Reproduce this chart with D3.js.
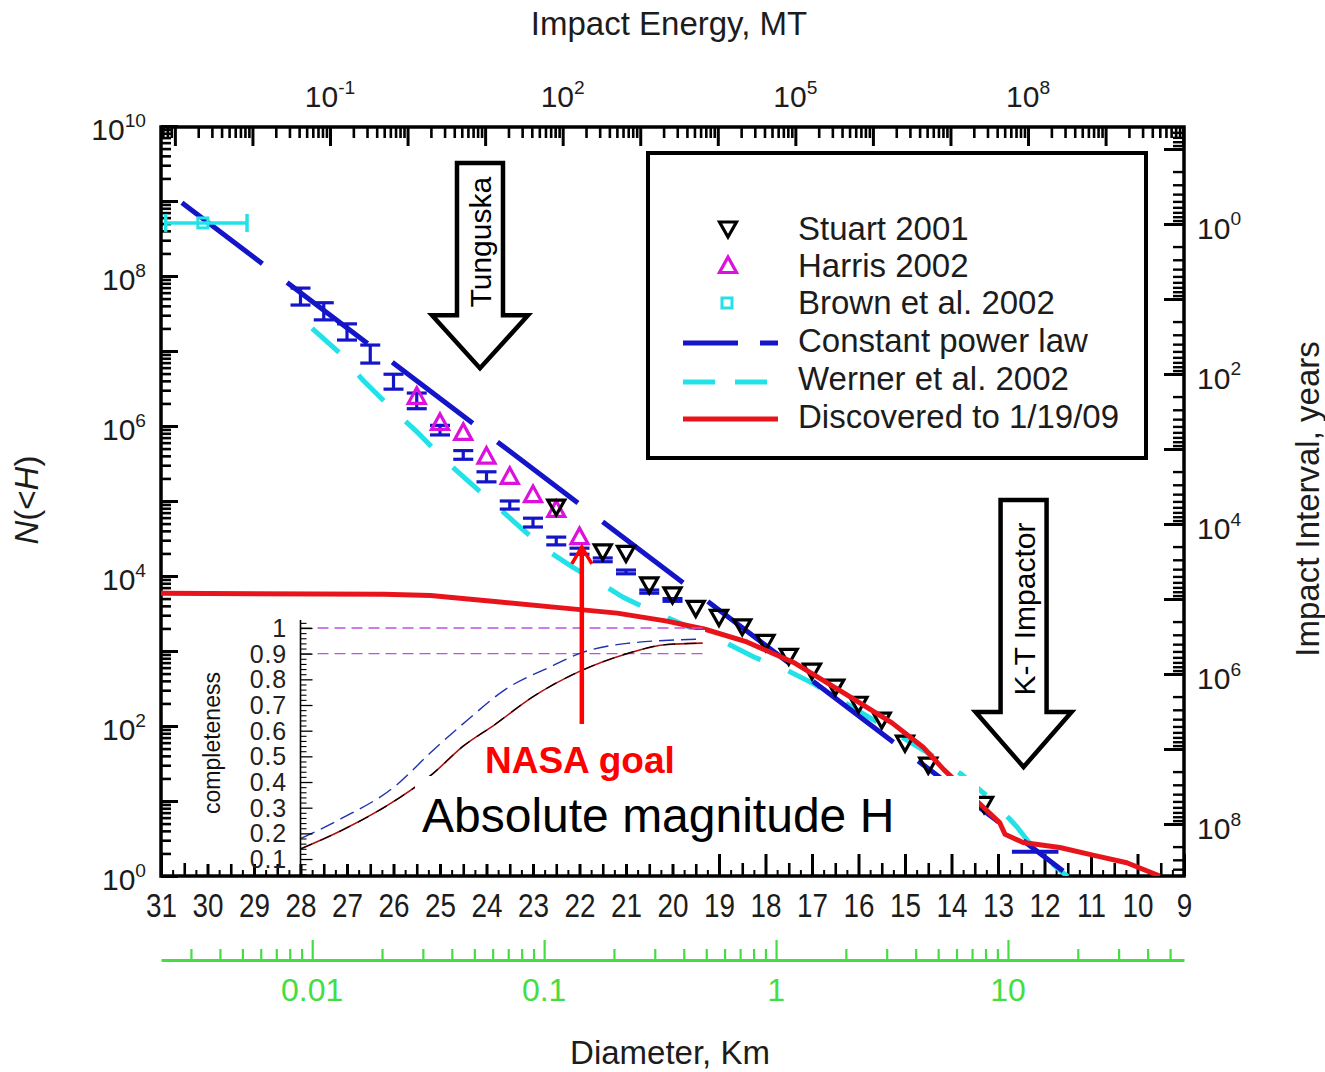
<!DOCTYPE html>
<html>
<head>
<meta charset="utf-8">
<script src="https://cdnjs.cloudflare.com/ajax/libs/d3/7.8.5/d3.min.js"></script>
<style>
  html,body{margin:0;padding:0;background:#fff;}
  svg{display:block;}
  text{font-family:"Liberation Sans",Arial,sans-serif;}
</style>
</head>
<body>
<svg id="chart" width="1325" height="1072"></svg>
<script>
// ================= DATA =================
const hTickValues = [31,30,29,28,27,26,25,24,23,22,21,20,19,18,17,16,15,14,13,12,11,10,9];
const nTickExponents = [0,2,4,6,8,10];
const energyTickExponents = [-1,2,5,8];
const intervalTickExponents = [0,2,4,6,8];
const diameterTickValues = [0.01,0.1,1,10];
const diameterTickLabels = ["0.01","0.1","1","10"];
const completenessTicks = [0.1,0.2,0.3,0.4,0.5,0.6,0.7,0.8,0.9,1];

// Stuart 2001 (black down triangles)
const stuartH = [22.5,21.5,21.0,20.5,20.0,19.5,19.0,18.5,18.0,17.5,17.0,16.5,16.0,15.5,15.0,14.5,13.3];
const stuartN = [8.3e4,2.1e4,2.0e4,7.6e3,5.6e3,3.7e3,2.8e3,2.1e3,1.3e3,850,540,330,195,120,59,30,9];

// Harris 2002 (magenta up triangles)
const harrisH = [25.5,25.0,24.5,24.0,23.5,23.0,22.5,22.0];
const harrisN = [2.45e6,1.1e6,8.1e5,3.9e5,2.1e5,1.2e5,7.6e4,3.3e4];

// Brown et al. 2002 (cyan, horizontal error bar)
const brownH = [30.1];
const brownHlo = [30.9];
const brownHhi = [29.15];
const brownN = [5.1e8];

// blue error-bar estimates (unlabelled)
const bolideH  = [28,27.5,27,26.5,26,25.5,25,24.5,24,23.5,23,22.5,22,21.5,21,20.5,20];
const bolideLo = [4.1e7,2.6e7,1.4e7,6.9e6,3.1e6,1.7e6,7.6e5,3.6e5,1.8e5,7.8e4,4.5e4,2.6e4,1.95e4,1.55e4,1.07e4,5.9e3,4.6e3];
const bolideHi = [6.9e7,4.4e7,2.3e7,1.2e7,4.9e6,2.75e6,1.02e6,4.7e5,2.45e5,1.0e5,5.9e4,3.3e4,2.35e4,1.74e4,1.2e4,6.5e3,5.0e3];
const bolideBarH = [12.7, 11.7];
const bolideBarN = [2.1, 2.1];

// Constant power law (straight line in log space)
const powerH = [30.55, 11.6];
const powerN = [9.5e8, 1.17];

// Werner et al. 2002
const wernerH = [27.75,27.15,26.66,26.08,25.49,24.94,23.28,22.70,22.14,21.56,21.06,20.48,18.85,18.25,17.67,16.98,14.31,13.80,13.11,12.59,12.25,11.50];
const wernerN = [2.0e7,9.3e6,4.1e6,1.8e6,8.3e5,3.7e5,4.5e4,2.2e4,1.3e4,8.1e3,5.2e3,3.5e3,1.28e3,830,610,370,37,23,10,4.5,2.4,0.98];

// Discovered to 1/19/09
const discH = [31.0,26.2,25.2,23.71,22.27,21.19,20.12,19.30,18.40,17.37,16.31,15.28,14.61,14.16,13.41,12.96,12.85,12.46,11.67,10.96,10.23,9.52];
const discN = [5.9e3,5.7e3,5.5e3,4.5e3,3.7e3,3.2e3,2.5e3,1.95e3,1.32e3,690,275,110,52,26,9.4,5.1,3.6,2.8,2.4,1.9,1.5,1.0];

// Inset: completeness vs H
const complBlueH = [27.99,27.13,25.99,25.17,24.42,23.6,22.61,22.01,20.98,19.35];
const complBlueC = [0.18,0.257,0.38,0.52,0.64,0.76,0.85,0.90,0.94,0.957];
const complBlackH = [27.99,27.13,25.86,25.17,24.5,23.85,23.02,22.01,20.98,20.16,19.35];
const complBlackC = [0.14,0.21,0.34,0.43,0.54,0.62,0.73,0.83,0.90,0.935,0.941];
const complGoalLevels = [1.0, 0.9];
const insetHRange = [28.0, 19.3];

// annotations (data space)
const tunguska = {H:24.14, top:3.2e9, head:3.0e7, tip:5.9e6};
const ktImpactor = {H:12.45, top:1.03e5, head:154, tip:28.4};
const nasaGoal = {H:21.95, bottom:106, tip:2.44e4};

const legendItems = ["Stuart 2001","Harris 2002","Brown et al. 2002","Constant power law","Werner et al. 2002","Discovered to 1/19/09"];

// ================= COLOURS =================
const C = {blue:"#1414c8", cyan:"#22e2e8", red:"#e8141c", mag:"#dd11dd", green:"#44dd44", txt:"#1c1c1c", bright:"#ff0000"};

// ================= SCALES =================
const L=161, R=1184, T=127, B=876;
const x = d3.scaleLinear().domain([31,9]).range([L,R]);
const y = d3.scaleLog().domain([1,1e10]).range([B,126]);
const xE = d3.scaleLog().domain([Math.pow(10,-3.179), Math.pow(10,10.011)]).range([L,R]);
const xD = d3.scaleLog().domain([Math.pow(10,-2.652), Math.pow(10,1.759)]).range([L,R]);
const yI = d3.scaleLog().domain([Math.pow(10,-1.293), Math.pow(10,8.693)]).range([T,B]);
const yC = d3.scaleLinear().domain([0,1]).range([884.7,628]);

const svg = d3.select("#chart");
svg.append("defs").append("clipPath").attr("id","clip")
  .append("rect").attr("x",L).attr("y",T).attr("width",R-L).attr("height",B-T);

function logTicks(scale){
  const [a,b] = scale.domain().map(Math.log10);
  const major=[], minor=[];
  for(let e=Math.floor(a); e<=Math.ceil(b); e++){
    const v=Math.pow(10,e);
    if(e>=a-1e-9 && e<=b+1e-9) major.push(v);
    for(let m=2;m<=9;m++){ const w=m*v, lw=Math.log10(w); if(lw>=a && lw<=b) minor.push(w); }
  }
  return {major, minor};
}
function styleAxis(g, w){ g.select(".domain").remove(); g.selectAll(".tick line").attr("stroke","#000").attr("stroke-width",w); g.selectAll(".tick text").remove(); }

// ================= AXES =================
{
  const t = logTicks(y);
  svg.append("g").attr("transform",`translate(${L},0)`).call(d3.axisLeft(y).tickValues(t.major).tickSize(-17).tickSizeOuter(0)).call(g=>styleAxis(g,3));
  svg.append("g").attr("transform",`translate(${L},0)`).call(d3.axisLeft(y).tickValues(t.minor).tickSize(-10).tickSizeOuter(0)).call(g=>styleAxis(g,2.6));
}
{
  const t = logTicks(yI);
  svg.append("g").attr("transform",`translate(${R},0)`).call(d3.axisRight(yI).tickValues(t.major).tickSize(-20).tickSizeOuter(0)).call(g=>styleAxis(g,3));
  svg.append("g").attr("transform",`translate(${R},0)`).call(d3.axisRight(yI).tickValues(t.minor).tickSize(-11).tickSizeOuter(0)).call(g=>styleAxis(g,2.4));
}
{
  const t = logTicks(xE);
  svg.append("g").attr("transform",`translate(0,${T})`).call(d3.axisTop(xE).tickValues(t.major).tickSize(-19).tickSizeOuter(0)).call(g=>styleAxis(g,3));
  svg.append("g").attr("transform",`translate(0,${T})`).call(d3.axisTop(xE).tickValues(t.minor).tickSize(-11).tickSizeOuter(0)).call(g=>styleAxis(g,2.6));
}
{
  const half = d3.range(30.5, 9, -1);
  const quarter = d3.range(30.75, 9, -0.5);
  svg.append("g").attr("transform",`translate(0,${B})`).call(d3.axisBottom(x).tickValues(hTickValues).tickSize(-22).tickSizeOuter(0)).call(g=>styleAxis(g,3));
  svg.append("g").attr("transform",`translate(0,${B})`).call(d3.axisBottom(x).tickValues(half).tickSize(-13).tickSizeOuter(0)).call(g=>styleAxis(g,2.6));
  svg.append("g").attr("transform",`translate(0,${B})`).call(d3.axisBottom(x).tickValues(quarter).tickSize(-6).tickSizeOuter(0)).call(g=>styleAxis(g,2));
  const lab = svg.append("g").attr("transform",`translate(0,${B})`).call(d3.axisBottom(x).tickValues(hTickValues).tickSize(0).tickSizeOuter(0).tickFormat(d3.format("d")));
  lab.select(".domain").remove(); lab.selectAll(".tick line").remove();
  lab.selectAll(".tick text").attr("y",41).attr("dy",null).attr("font-size",34).attr("font-family","Liberation Sans, Arial, sans-serif")
     .attr("fill",C.txt).attr("transform","scale(0.82,1)");
}
svg.append("rect").attr("x",L).attr("y",T).attr("width",R-L).attr("height",B-T).attr("fill","none").attr("stroke","#000").attr("stroke-width",3.5);

{
  const t = logTicks(xD);
  const gA = svg.append("g").attr("transform","translate(0,960)").call(d3.axisTop(xD).tickValues(t.major).tickSize(20).tickSizeOuter(0).tickFormat(""));
  gA.select(".domain").attr("stroke",C.green).attr("stroke-width",3);
  gA.selectAll(".tick line").attr("stroke",C.green).attr("stroke-width",2.2);
  const gB = svg.append("g").attr("transform","translate(0,960)").call(d3.axisTop(xD).tickValues(t.minor).tickSize(11).tickSizeOuter(0).tickFormat(""));
  gB.select(".domain").remove();
  gB.selectAll(".tick line").attr("stroke",C.green).attr("stroke-width",2.2);
  svg.append("g").selectAll("text").data(diameterTickValues).join("text")
    .attr("x",d=>xD(d)).attr("y",1001).attr("text-anchor","middle").attr("font-size",32).attr("fill",C.green)
    .text((d,i)=>diameterTickLabels[i]);
}

function supLabel(g, px, py, exp, anchor, fs){
  const t = g.append("text").attr("x",px).attr("y",py).attr("text-anchor",anchor).attr("font-size",fs).attr("fill",C.txt);
  t.append("tspan").text("10");
  t.append("tspan").attr("dy",-fs*0.45).attr("font-size",fs*0.64).text(exp);
}
const labG = svg.append("g");
nTickExponents.forEach(e=>supLabel(labG,146,y(Math.pow(10,e))+14,String(e),"end",30));
energyTickExponents.forEach(e=>supLabel(labG,xE(Math.pow(10,e)),107,String(e),"middle",30));
intervalTickExponents.forEach(e=>supLabel(labG,1197,yI(Math.pow(10,e))+15,String(e),"start",30));

svg.append("text").attr("x",669).attr("y",35).attr("text-anchor","middle").attr("font-size",33).attr("fill",C.txt).text("Impact Energy, MT");
svg.append("text").attr("x",670).attr("y",1064).attr("text-anchor","middle").attr("font-size",33).attr("fill",C.txt).text("Diameter, Km");
svg.append("text").attr("transform","translate(1319,499) rotate(-90)").attr("text-anchor","middle").attr("font-size",33).attr("fill",C.txt).text("Impact Interval, years");
{
  const t = svg.append("text").attr("transform","translate(38,500) rotate(-90)").attr("text-anchor","middle").attr("font-size",33).attr("fill",C.txt);
  t.append("tspan").attr("font-style","italic").text("N");
  t.append("tspan").text("(<");
  t.append("tspan").attr("font-style","italic").text("H");
  t.append("tspan").text(")");
}

// ================= DATA MARKS =================
const plot = svg.append("g").attr("clip-path","url(#clip)");
const lineHN = d3.line().x(d=>x(d[0])).y(d=>y(d[1]));

plot.append("path").datum(d3.zip(wernerH,wernerN)).attr("d",lineHN).attr("fill","none")
  .attr("stroke",C.cyan).attr("stroke-width",5).attr("stroke-dasharray","36,30");
plot.append("path").datum(d3.zip(powerH,powerN)).attr("d",lineHN).attr("fill","none")
  .attr("stroke",C.blue).attr("stroke-width",5).attr("stroke-dasharray","101,31");
{
  const g = plot.append("g").attr("stroke",C.blue).attr("stroke-width",3.2);
  bolideH.forEach((h,i)=>{
    const px=x(h), y1=y(bolideLo[i]), y2=y(bolideHi[i]);
    g.append("line").attr("x1",px).attr("x2",px).attr("y1",y1).attr("y2",y2);
    g.append("line").attr("x1",px-10).attr("x2",px+10).attr("y1",y1).attr("y2",y1);
    g.append("line").attr("x1",px-10).attr("x2",px+10).attr("y1",y2).attr("y2",y2);
  });
  g.append("line").attr("x1",x(bolideBarH[0])).attr("x2",x(bolideBarH[1])).attr("y1",y(bolideBarN[0])).attr("y2",y(bolideBarN[1])).attr("stroke-width",4);
}
{
  const g = plot.append("g").attr("stroke",C.cyan).attr("stroke-width",3.5).attr("fill","none");
  brownH.forEach((h,i)=>{
    const py=y(brownN[i]);
    g.append("line").attr("x1",x(brownHlo[i])).attr("x2",x(brownHhi[i])).attr("y1",py).attr("y2",py);
    g.append("line").attr("x1",x(brownHlo[i])).attr("x2",x(brownHlo[i])).attr("y1",py-9).attr("y2",py+9);
    g.append("line").attr("x1",x(brownHhi[i])).attr("x2",x(brownHhi[i])).attr("y1",py-9).attr("y2",py+9);
    g.append("rect").attr("x",x(h)-5).attr("y",py-5).attr("width",10).attr("height",10).attr("stroke-width",3);
  });
}
const triUp = "M0,-9L8.5,6.5L-8.5,6.5Z";
const triDown = "M0,8L8.5,-7L-8.5,-7Z";
plot.append("g").selectAll("path").data(d3.zip(harrisH,harrisN)).join("path")
  .attr("transform",d=>`translate(${x(d[0])},${y(d[1])})`).attr("d",triUp)
  .attr("fill","none").attr("stroke",C.mag).attr("stroke-width",3.2);
plot.append("g").selectAll("path").data(d3.zip(stuartH,stuartN)).join("path")
  .attr("transform",d=>`translate(${x(d[0])},${y(d[1])})`).attr("d",triDown)
  .attr("fill","none").attr("stroke","#000").attr("stroke-width",3.2);
plot.append("path").datum(d3.zip(discH,discN)).attr("d",lineHN).attr("fill","none")
  .attr("stroke",C.red).attr("stroke-width",5).attr("stroke-linejoin","round");

// ================= INSET =================
{
  const g = svg.append("g");
  g.append("rect").attr("x",190).attr("y",630).attr("width",x(insetHRange[1])-190).attr("height",864-630).attr("fill","#fff");
  const x0 = x(insetHRange[0]);
  complGoalLevels.forEach(c=>{
    g.append("line").attr("x1",x0).attr("x2",x(insetHRange[1])).attr("y1",yC(c)).attr("y2",yC(c))
      .attr("stroke","#c050e0").attr("stroke-width",1.3).attr("stroke-dasharray","11,6");
  });
  const lc = d3.line().x(d=>x(d[0])).y(d=>yC(d[1])).curve(d3.curveMonotoneX);
  g.append("path").datum(d3.zip(complBlueH,complBlueC)).attr("d",lc).attr("fill","none")
    .attr("stroke","#2030b0").attr("stroke-width",1.4).attr("stroke-dasharray","15,7");
  g.append("path").datum(d3.zip(complBlackH,complBlackC)).attr("d",lc).attr("fill","none")
    .attr("stroke","#b01010").attr("stroke-width",1.6);
  g.append("path").datum(d3.zip(complBlackH,complBlackC)).attr("d",lc).attr("fill","none")
    .attr("stroke","#000").attr("stroke-width",1.2).attr("stroke-dasharray","12,9");
  g.append("line").attr("x1",x0).attr("x2",x0).attr("y1",620).attr("y2",B).attr("stroke","#000").attr("stroke-width",1.6);
  const minorC = d3.range(0.04,1.03,0.02).filter(c=>Math.abs(Math.round(c*10)-c*10)>0.01);
  const ax1 = g.append("g").attr("transform",`translate(${x0},0)`).call(d3.axisLeft(yC).tickValues(completenessTicks).tickSize(-12).tickSizeOuter(0).tickFormat(""));
  ax1.select(".domain").remove(); ax1.selectAll(".tick line").attr("stroke","#000").attr("stroke-width",1.3);
  const ax2 = g.append("g").attr("transform",`translate(${x0},0)`).call(d3.axisLeft(yC).tickValues(minorC).tickSize(-6).tickSizeOuter(0).tickFormat(""));
  ax2.select(".domain").remove(); ax2.selectAll(".tick line").attr("stroke","#000").attr("stroke-width",1.1);
  g.selectAll("text.ct").data(completenessTicks).join("text").attr("class","ct")
    .attr("x",287).attr("y",c=>yC(c)+9).attr("text-anchor","end").attr("font-size",25).attr("letter-spacing",0.8)
    .attr("font-family","DejaVu Sans, sans-serif").attr("fill","#222").text(c=>c===1?"1":String(c));
  g.append("text").attr("transform","translate(220,743) rotate(-90)").attr("text-anchor","middle")
    .attr("font-size",23).attr("font-family","DejaVu Sans, sans-serif").attr("fill","#111").text("completeness");
}

// Absolute magnitude label (white box behind)
svg.append("rect").attr("x",415).attr("y",776).attr("width",979-415).attr("height",850-776).attr("fill","#fff");
svg.append("text").attr("x",422).attr("y",832).attr("font-size",48).attr("font-family","DejaVu Sans, sans-serif").attr("fill","#000").text("Absolute magnitude H");

// NASA goal arrow + text
{
  const px = x(nasaGoal.H), yb = y(nasaGoal.bottom), yt = y(nasaGoal.tip);
  svg.append("line").attr("x1",px).attr("x2",px).attr("y1",yb).attr("y2",yt+2).attr("stroke",C.bright).attr("stroke-width",4.5);
  svg.append("path").attr("d",`M${px-10},${yt+17}L${px},${yt}L${px+10},${yt+17}`).attr("fill","none").attr("stroke",C.bright).attr("stroke-width",3.5);
  svg.append("text").attr("x",485).attr("y",773).attr("font-size",37).attr("font-weight","bold")
    .attr("font-family","DejaVu Sans, sans-serif").attr("fill",C.bright).text("NASA goal");
}

function bigArrow(a, label, shaftHalf, headHalf, textBase){
  const cx = x(a.H), yt=y(a.top), yh=y(a.head), yp=y(a.tip);
  const p = d3.path();
  p.moveTo(cx-shaftHalf,yt); p.lineTo(cx+shaftHalf,yt); p.lineTo(cx+shaftHalf,yh); p.lineTo(cx+headHalf,yh);
  p.lineTo(cx,yp); p.lineTo(cx-headHalf,yh); p.lineTo(cx-shaftHalf,yh); p.closePath();
  svg.append("path").attr("d",p.toString()).attr("fill","#fff").attr("stroke","#000").attr("stroke-width",4.5).attr("stroke-linejoin","miter");
  svg.append("text").attr("transform",`translate(${cx+textBase},${(yt+yh)/2+3}) rotate(-90)`).attr("text-anchor","middle")
    .attr("font-size",30).attr("font-family","DejaVu Sans, sans-serif").attr("fill","#000").text(label);
}
bigArrow(tunguska,"Tunguska",23,48,11);
bigArrow(ktImpactor,"K-T Impactor",23,48,11);

// ================= LEGEND =================
{
  const g = svg.append("g");
  g.append("rect").attr("x",648).attr("y",153).attr("width",498).attr("height",305).attr("fill","#fff").attr("stroke","#000").attr("stroke-width",4);
  const rows = [229,266,303,341,379,417];
  legendItems.forEach((t,i)=>{
    g.append("text").attr("x",798).attr("y",rows[i]+11).attr("font-size",33).attr("fill",C.txt).text(t);
  });
  g.append("path").attr("transform",`translate(728,${rows[0]})`).attr("d",triDown).attr("fill","none").attr("stroke","#000").attr("stroke-width",3.2);
  g.append("path").attr("transform",`translate(728,${rows[1]})`).attr("d",triUp).attr("fill","none").attr("stroke",C.mag).attr("stroke-width",3.2);
  g.append("rect").attr("x",722).attr("y",rows[2]-5).attr("width",10).attr("height",10).attr("fill","none").attr("stroke",C.cyan).attr("stroke-width",3);
  g.append("line").attr("x1",683).attr("x2",778).attr("y1",rows[3]+2).attr("y2",rows[3]+2).attr("stroke",C.blue).attr("stroke-width",5).attr("stroke-dasharray","55,22,17,0");
  g.append("line").attr("x1",683).attr("x2",768).attr("y1",rows[4]+3).attr("y2",rows[4]+3).attr("stroke",C.cyan).attr("stroke-width",5).attr("stroke-dasharray","32,20");
  g.append("line").attr("x1",683).attr("x2",778).attr("y1",rows[5]+2).attr("y2",rows[5]+2).attr("stroke",C.red).attr("stroke-width",5);
}
</script>
</body>
</html>
